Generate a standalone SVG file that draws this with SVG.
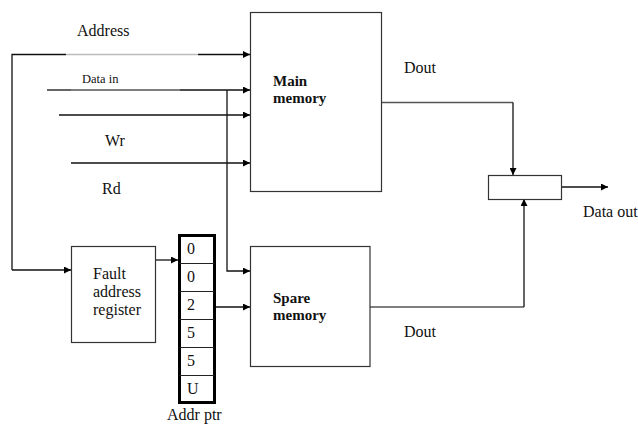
<svg xmlns="http://www.w3.org/2000/svg" width="638" height="426" viewBox="0 0 638 426">
<defs>
<marker id="ah" viewBox="0 0 10 10" refX="10" refY="5" markerWidth="9" markerHeight="7" markerUnits="userSpaceOnUse" orient="auto">
<path d="M0,0 L10,5 L0,10 z" fill="#000"/>
</marker>
</defs>
<style>
.box{fill:#fff;stroke:#333;stroke-width:1.2}
.ln{fill:none;stroke:#111;stroke-width:1.3}
.lt{fill:none;stroke:#bbb;stroke-width:1.3}
.md{fill:none;stroke:#555;stroke-width:1.3}
text{font-family:'Liberation Serif','Times New Roman',Times,serif}
.t{font-size:16px;fill:#111}
.b{font-size:15px;font-weight:bold;fill:#111}
.s{font-size:12.5px;fill:#111}
.cell{fill:none;stroke:#222;stroke-width:1}
</style>
<rect width="638" height="426" fill="#fff"/>
<g id="connectors">
<path class="ln" d="M12,270 L12,54.5 L66,54.5"/>
<path class="lt" d="M66,54.5 L198,54.5"/>
<path class="ln" d="M198,54.5 L250,54.5" marker-end="url(#ah)"/>
<path class="ln" d="M12,270 L71,270" marker-end="url(#ah)"/>
<path class="ln" d="M47,90 L71,90"/>
<path class="md" d="M71,90 L180,90"/>
<path class="ln" d="M180,90 L250,90" marker-end="url(#ah)"/>
<path class="ln" d="M227,90 L227,271 L250,271" marker-end="url(#ah)"/>
<path class="ln" d="M59,115 L250,115" marker-end="url(#ah)"/>
<path class="ln" d="M71,163 L250,163" marker-end="url(#ah)"/>
<path class="ln" d="M155,260 L178,260" marker-end="url(#ah)"/>
<path class="ln" d="M215,307 L250,307" marker-end="url(#ah)"/>
<path class="md" d="M381,102.5 L513,102.5"/>
<path class="ln" d="M513,102.5 L513,175" marker-end="url(#ah)"/>
<path class="md" d="M370,307 L524,307"/>
<path class="ln" d="M524,307 L524,199" marker-end="url(#ah)"/>
<path class="ln" d="M561,187 L608,187" marker-end="url(#ah)"/>
</g>
<g id="labels">
<text class="t" x="77" y="36">Address</text>
<text class="s" x="82" y="83">Data in</text>
<text class="t" x="105" y="146">Wr</text>
<text class="t" x="102" y="194">Rd</text>
<text class="t" x="404" y="73">Dout</text>
<text class="t" x="404" y="337">Dout</text>
<text class="t" x="583" y="217">Data out</text>
</g>
<g id="main-memory">
<rect class="box" x="250.5" y="12.5" width="131" height="179"/>
<text class="b" x="273" y="86">Main</text>
<text class="b" x="273" y="103">memory</text>
</g>
<g id="spare-memory">
<rect class="box" x="250.5" y="246.5" width="119.5" height="120"/>
<text class="b" x="273" y="303">Spare</text>
<text class="b" x="273" y="320">memory</text>
</g>
<g id="fault-address-register">
<rect class="box" x="71.5" y="246.5" width="84" height="96"/>
<text class="t" x="93" y="279">Fault</text>
<text class="t" x="93" y="297">address</text>
<text class="t" x="93" y="315">register</text>
</g>
<g id="mux">
<rect class="box" x="488.5" y="175.5" width="73" height="24"/>
</g>
<g id="addr-ptr">
<rect x="179.5" y="235.5" width="35" height="167" fill="#fff" stroke="#000" stroke-width="3"/>
<line class="cell" x1="179.5" y1="263.5" x2="214.5" y2="263.5"/>
<line class="cell" x1="179.5" y1="291.5" x2="214.5" y2="291.5"/>
<line class="cell" x1="179.5" y1="319.5" x2="214.5" y2="319.5"/>
<line class="cell" x1="179.5" y1="347.5" x2="214.5" y2="347.5"/>
<line class="cell" x1="179.5" y1="375.5" x2="214.5" y2="375.5"/>
<text class="t" x="187" y="254">0</text>
<text class="t" x="187" y="282">0</text>
<text class="t" x="187" y="310">2</text>
<text class="t" x="187" y="338">5</text>
<text class="t" x="187" y="366">5</text>
<text class="t" x="187" y="394">U</text>
<text class="t" x="167" y="420">Addr ptr</text>
</g>
</svg>
